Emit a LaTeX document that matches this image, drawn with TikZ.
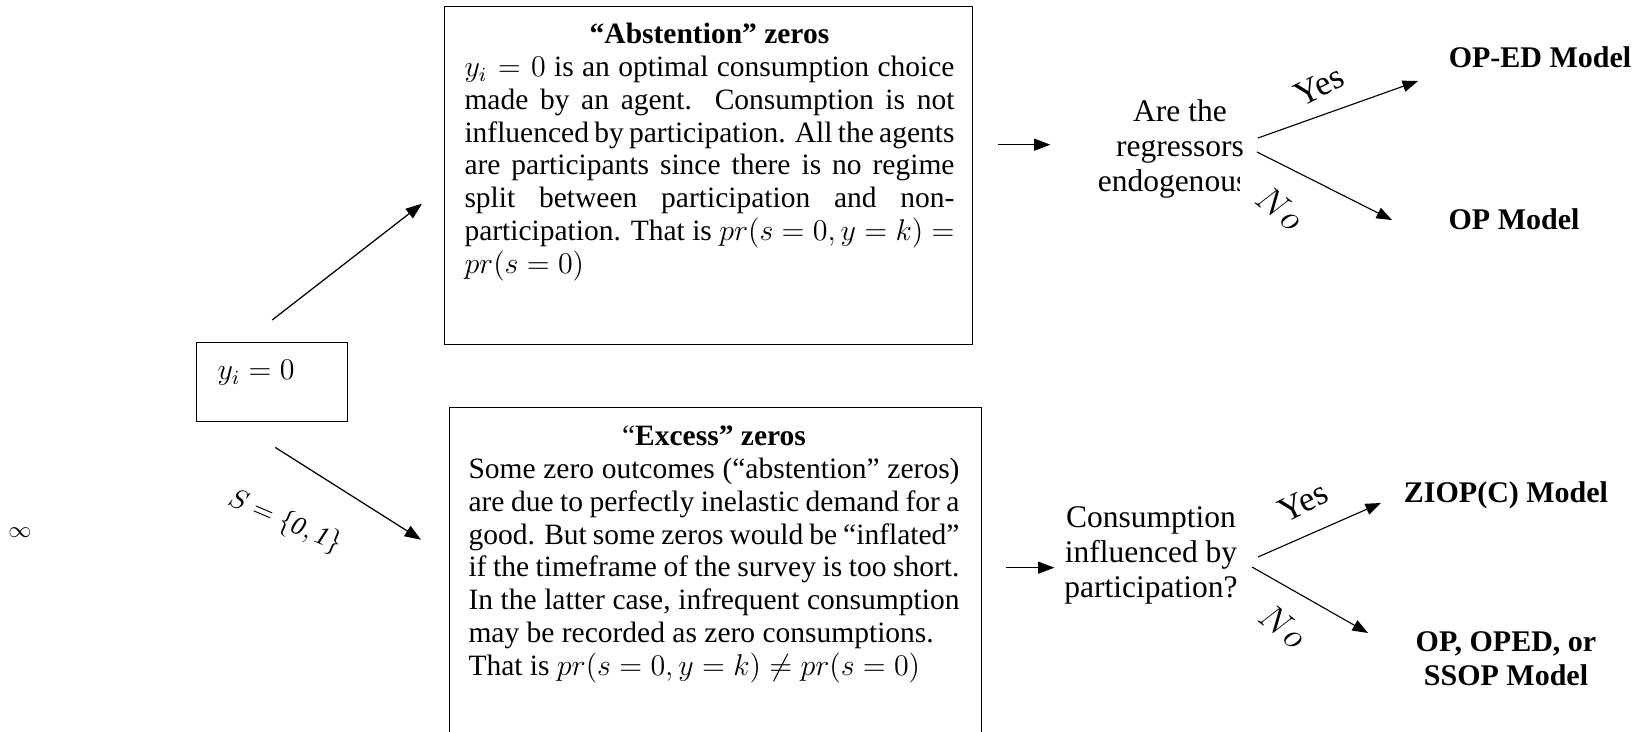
\documentclass[tikz,border=0pt]{standalone}
\usepackage{fontspec}
\setmainfont{Liberation Serif}
\usetikzlibrary{arrows.meta,calc}
\newcommand\JLine[1]{\hbox to \hsize{#1}}
\newcommand\NLine[1]{\hbox{#1}}
\begin{document}
\begin{tikzpicture}[x=0.4pt,y=-0.4pt,
  boxnode/.style={draw,line width=0.55pt,inner sep=0,anchor=north west},
  flow/.style={-{Triangle[length=6.5pt,width=4.8pt]},line width=0.5pt},
  thinflow/.style={-{Triangle[length=6.2pt,width=4.6pt]},line width=0.45pt},
  boxtext/.style={inner sep=0,anchor=base west,font=\fontsize{11.8}{13.1}\selectfont},
  qtext/.style={inner sep=0,anchor=base,font=\fontsize{12.6}{14}\selectfont},
  model/.style={inner sep=0,anchor=base,font=\fontsize{12}{13.6}\selectfont\bfseries},
  yn/.style={inner sep=0,font=\fontsize{14}{16}\selectfont}]
\useasboundingbox (0,0) rectangle (1636,732);

% boxes
\node[boxnode,minimum width=60.4pt,minimum height=31.6pt] (yi) at (196,342) {};
\node[inner sep=0,anchor=base west,font=\fontsize{12}{14}\selectfont] (yitxt) at (217,380) {$y_i = 0$};
\node[boxnode,minimum width=211.2pt,minimum height=135.2pt] (abs) at (444,6) {};
\node[boxnode,minimum width=212.8pt,minimum height=136pt] (exc) at (449,407) {};

\node[boxtext] (abstxt) at (464,44) {\begin{minipage}[t]{196pt}
\JLine{\hfil\textbf{“Abstention” zeros}\hfil}
\JLine{$y_i = 0$ is an optimal consumption choice}
\JLine{made by an agent. Consumption is not}
\JLine{influenced by participation. All the agents}
\JLine{are participants since there is no regime}
\JLine{split between participation and non-}
\JLine{participation. That is $pr(s = 0, y = k) =$}
\NLine{$pr(s = 0)$}
\end{minipage}};

\node[boxtext] (exctxt) at (468,446) {\begin{minipage}[t]{196.4pt}
\JLine{\hfil“\textbf{Excess” zeros}\hfil}
\JLine{Some zero outcomes (“abstention” zeros)}
\JLine{are due to perfectly inelastic demand for a}
\JLine{good. But some zeros would be “inflated”}
\JLine{if the timeframe of the survey is too short.}
\JLine{In the latter case, infrequent consumption}
\NLine{may be recorded as zero consumptions.}
\NLine{That is $pr(s = 0, y = k) \neq pr(s = 0)$}
\end{minipage}};

% left labels
\node[inner sep=0,font=\fontsize{9}{10}\selectfont] (inf) at (20,533) {$\infty$};
\node[inner sep=0,rotate=-23,font=\fontsize{10.5}{12}\selectfont] (slab) at (285,522) {$S = \{\mathit{0}, \mathit{1}\}$};

% left arrows
\draw[flow] ($(yi.north)+(0,-22)$) -- ($(abs.west)+(-22,28)$);
\draw[flow] ($(yi.south)+(3,25)$) -- ($(exc.west)+(-28,-38)$);

% questions
\begin{scope}
\clip (1050,60) -- (1270,60) -- (1270,167) -- (1239,167) -- (1239,240) -- (1050,240) -- cycle;
\node[qtext] (q1) at (1180,122) {\begin{tabular}[t]{@{}c@{}}Are the\\regressors\\endogenous?\end{tabular}};
\end{scope}
\node[qtext] (q2) at (1151,528) {\begin{tabular}[t]{@{}c@{}}Consumption\\influenced by\\participation?\end{tabular}};

% models
\node[model] (oped) at (1540,68) {OP-ED Model};
\node[model] (op) at (1514,230) {OP Model};
\node[model] (ziop) at (1506,503) {ZIOP(C) Model};
\node[model] (opss) at (1506,652) {\begin{tabular}[t]{@{}c@{}}OP, OPED, or\\SSOP Model\end{tabular}};

% connector end points
\coordinate (q1in) at ($(abs.east)+(25,-31)$);
\coordinate (q1at) at ($(abs.east)+(77,-31)$);
\coordinate (q1y) at (1258,138);
\coordinate (q1n) at (1257,152);
\coordinate (opedat) at (1418,81);
\coordinate (opat) at (1392,220);
\coordinate (q2in) at ($(exc.east)+(24,-10)$);
\coordinate (q2at) at ($(exc.east)+(72,-10)$);
\coordinate (q2y) at (1258,557);
\coordinate (q2n) at (1252,567);
\coordinate (ziopat) at (1381,503);
\coordinate (opssat) at (1368,633);

\draw[flow] (q1in) -- (q1at);
\draw[flow] (q2in) -- (q2at);
\draw[thinflow] (q1y) -- (opedat);
\draw[thinflow] (q1n) -- (opat);
\draw[thinflow] (q2y) -- (ziopat);
\draw[thinflow] (q2n) -- (opssat);

% yes / no
\node[yn,rotate=26] (yes1) at (1319,86) {Yes};
\node[yn,rotate=-38] (no1) at (1280,208) {$No$};
\node[yn,rotate=26] (yes2) at (1303,502) {Yes};
\node[yn,rotate=-38] (no2) at (1283,626) {$No$};
\end{tikzpicture}
\end{document}
